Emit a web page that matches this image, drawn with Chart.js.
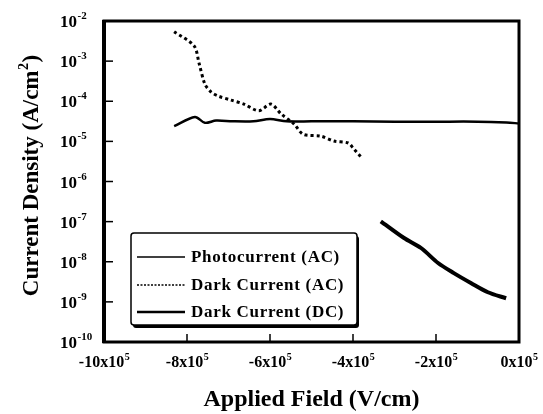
<!DOCTYPE html>
<html>
<head>
<meta charset="utf-8">
<script src="https://cdn.jsdelivr.net/npm/chart.js@4"></script>
<style>
    html, body { margin: 0; background: #fff; }
    #wrap { width: 543px; height: 414px; }
</style>
</head>
<body>
<div id="wrap"><canvas id="chart"></canvas></div>
<script>
// field in V/cm, current density in A/cm2
const photoField = [-8.31e5, -7.81e5, -7.57e5, -7.3e5, -6.9e5, -6.4e5, -6.0e5, -5.6e5, -5.0e5, -4.0e5, -3.0e5, -2.0e5, -1.0e5, -0.3e5, 0];
const photoCurrent = [2.4e-5, 4.07e-5, 2.9e-5, 3.3e-5, 3.16e-5, 3.16e-5, 3.6e-5, 3.16e-5, 3.16e-5, 3.16e-5, 3.1e-5, 3.1e-5, 3.1e-5, 2.95e-5, 2.8e-5];

const darkAcField = [-8.31e5, -7.83e5, -7.71e5, -7.57e5, -7.42e5, -7.25e5, -6.94e5, -6.63e5, -6.27e5, -5.98e5, -5.73e5, -5.42e5, -5.20e5, -4.77e5, -4.46e5, -4.12e5, -3.98e5, -3.81e5];
const darkAcCurrent = [5.4e-3, 2.4e-3, 8.9e-4, 2.7e-4, 1.7e-4, 1.35e-4, 1.07e-4, 8.5e-5, 5.8e-5, 8.5e-5, 4.8e-5, 2.7e-5, 1.5e-5, 1.35e-5, 1.02e-5, 9.1e-6, 6.5e-6, 4.1e-6];

const darkDcField = [-3.33e5, -2.77e5, -2.36e5, -1.95e5, -1.57e5, -1.16e5, -0.75e5, -0.31e5];
const darkDcCurrent = [1.02e-7, 3.9e-8, 2.2e-8, 9.3e-9, 5.2e-9, 2.95e-9, 1.74e-9, 1.23e-9];

const seriesNames = ['Photocurrent (AC)', 'Dark Current (AC)', 'Dark Current (DC)'];

const xTickValues = [-10, -8, -6, -4, -2, 0];       // x 10^5 V/cm
const yTickExponents = [-2, -3, -4, -5, -6, -7, -8, -9, -10];

const xTitle = 'Applied Field (V/cm)';
const yTitleMain = 'Current Density (A/cm';
const yTitleSup = '2';

const FONT = '"Liberation Serif", "Times New Roman", serif';

function points(xs, ys) {
    return xs.map((x, i) => ({ x: x, y: ys[i] }));
}

// axes, ticks, labels and the boxed legend are drawn by hand
const decor = {
    id: 'decor',
    afterDraw(chart) {
        const ctx = chart.ctx;
        const a = chart.chartArea;
        const sx = chart.scales.x;
        const sy = chart.scales.y;

        ctx.save();
        ctx.strokeStyle = '#000';
        ctx.fillStyle = '#000';

        // frame
        ctx.lineWidth = 3;
        ctx.strokeRect(a.left, a.top, a.right - a.left, a.bottom - a.top);
        ctx.lineWidth = 4;
        ctx.beginPath();
        ctx.moveTo(a.left, a.top - 1);
        ctx.lineTo(a.left, a.bottom + 1);
        ctx.stroke();

        // y ticks + labels
        ctx.lineWidth = 1.5;
        yTickExponents.forEach(e => {
            const py = sy.getPixelForValue(Math.pow(10, e));
            ctx.beginPath();
            ctx.moveTo(a.left, py);
            ctx.lineTo(a.left + 9, py);
            ctx.stroke();

            ctx.textAlign = 'left';
            ctx.textBaseline = 'alphabetic';
            ctx.font = 'bold 17px ' + FONT;
            ctx.fillText('10', 60, py + 6);
            const w = ctx.measureText('10').width;
            ctx.font = 'bold 11px ' + FONT;
            ctx.fillText(String(e), 60 + w + 0.5, py - 2);
        });

        // x ticks + labels
        xTickValues.forEach(v => {
            const px = sx.getPixelForValue(v * 1e5);
            ctx.beginPath();
            ctx.moveTo(px, a.bottom);
            ctx.lineTo(px, a.bottom - 8);
            ctx.stroke();

            const main = v + 'x10';
            ctx.font = 'bold 16px ' + FONT;
            const w1 = ctx.measureText(main).width;
            ctx.font = 'bold 10px ' + FONT;
            const w2 = ctx.measureText('5').width;
            const x0 = px - (w1 + w2) / 2;
            ctx.textAlign = 'left';
            ctx.textBaseline = 'alphabetic';
            ctx.font = 'bold 16px ' + FONT;
            ctx.fillText(main, x0, 367);
            ctx.font = 'bold 10px ' + FONT;
            ctx.fillText('5', x0 + w1 + 0.5, 360);
        });

        // axis titles
        ctx.font = 'bold 24px ' + FONT;
        ctx.textAlign = 'center';
        ctx.textBaseline = 'alphabetic';
        ctx.fillText(xTitle, (a.left + a.right) / 2, 406);

        ctx.save();
        ctx.translate(38, 176);
        ctx.rotate(-Math.PI / 2);
        ctx.textAlign = 'left';
        ctx.font = 'bold 23px ' + FONT;
        const m1 = ctx.measureText(yTitleMain).width;
        ctx.font = 'bold 14px ' + FONT;
        const m2 = ctx.measureText(yTitleSup).width;
        ctx.font = 'bold 23px ' + FONT;
        const m3 = ctx.measureText(')').width;
        const t0 = -(m1 + m2 + m3) / 2;
        ctx.fillText(yTitleMain, t0, 0);
        ctx.fillText(')', t0 + m1 + m2 + 1, 0);
        ctx.font = 'bold 14px ' + FONT;
        ctx.fillText(yTitleSup, t0 + m1 + 0.5, -10);
        ctx.restore();

        // legend box with shadow
        const bx = 131, by = 233, bw = 226, bh = 92;
        ctx.fillStyle = '#000';
        ctx.beginPath();
        ctx.roundRect(bx + 2, by + 3, bw, bh, 3);
        ctx.fill();
        ctx.fillStyle = '#fff';
        ctx.beginPath();
        ctx.roundRect(bx, by, bw, bh, 3);
        ctx.fill();
        ctx.lineWidth = 1.5;
        ctx.strokeStyle = '#000';
        ctx.stroke();

        const rows = [257, 285, 312];
        chart.data.datasets.forEach((ds, i) => {
            ctx.lineWidth = ds.legendWidth;
            ctx.setLineDash(ds.borderDash ? [2, 1.5] : []);
            ctx.beginPath();
            ctx.moveTo(137, rows[i]);
            ctx.lineTo(185, rows[i]);
            ctx.stroke();
            ctx.setLineDash([]);

            ctx.fillStyle = '#000';
            ctx.font = 'bold 17px ' + FONT;
            ctx.letterSpacing = '0.7px';
            ctx.textAlign = 'left';
            ctx.textBaseline = 'middle';
            ctx.fillText(ds.label, 191, rows[i] + 1);
            ctx.letterSpacing = '0px';
        });

        ctx.restore();
    }
};

new Chart(
    document.getElementById('chart'),
    {
        type: 'scatter',

        data: {
            datasets: [
                {
                    label: seriesNames[0],
                    data: points(photoField, photoCurrent),
                    showLine: true,
                    borderColor: '#000',
                    borderWidth: 2.5,
                    legendWidth: 1.5,
                    pointRadius: 0,
                    tension: 0.3
                },
                {
                    label: seriesNames[1],
                    data: points(darkAcField, darkAcCurrent),
                    showLine: true,
                    borderColor: '#000',
                    borderWidth: 3,
                    borderDash: [3, 3],
                    legendWidth: 1.5,
                    pointRadius: 0,
                    tension: 0.3
                },
                {
                    label: seriesNames[2],
                    data: points(darkDcField, darkDcCurrent),
                    showLine: true,
                    borderColor: '#000',
                    borderWidth: 4,
                    legendWidth: 2.5,
                    pointRadius: 0,
                    tension: 0.3
                }
            ]
        },

        options: {
            responsive: true,
            maintainAspectRatio: false,
            animation: false,
            layout: {
                padding: { left: 104, right: 24, top: 21, bottom: 72 }
            },
            plugins: {
                legend: { display: false },
                tooltip: { enabled: false }
            },
            scales: {
                x: {
                    type: 'linear',
                    display: false,
                    min: -1e6,
                    max: 0
                },
                y: {
                    type: 'logarithmic',
                    display: false,
                    min: 1e-10,
                    max: 1e-2
                }
            }
        },

        plugins: [decor]
    }
);
</script>
</body>
</html>
